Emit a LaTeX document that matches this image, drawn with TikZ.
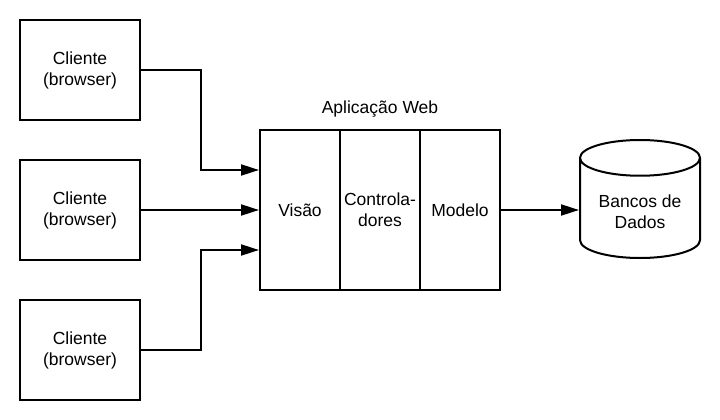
\documentclass[tikz,border=0pt]{standalone}
\usepackage{fontspec}
\setmainfont{Liberation Sans}
\usetikzlibrary{arrows.meta,shapes.geometric}

\tikzset{
  client box/.style={draw,line width=2pt,minimum width=120pt,minimum height=100pt,align=center},
  layer box/.style={draw,line width=2pt,minimum width=80pt,minimum height=160pt,align=center},
  link/.style={line width=2pt,-{Triangle[length=18pt,width=11pt]}},
}

\begin{document}
\begin{tikzpicture}[x=1pt,y=-1pt,font=\fontsize{17.5}{21}\selectfont]
      \useasboundingbox (0,0) rectangle (720,420);
      % clients
      \node[client box] at (80,70) (client a) {Cliente \\ (browser)};
      \node[client box] at (80,210) (client b) {Cliente \\ (browser)};
      \node[client box] at (80,350) (client c) {Cliente \\ (browser)};
      % web application
      \node[layer box] at (300,210) (visao) {Visão};
      \node[layer box] at (380,210) (controladores) {Controla- \\ dores};
      \node[layer box] at (460,210) (modelo) {Modelo};
      \node at (380,109) (web label) {Aplicação Web};
      % database
      \node[draw,line width=2pt,cylinder,shape border rotate=90,aspect=0.4,
        minimum width=120pt,minimum height=118pt,align=center,anchor=shape center] at (640,199) (db) {Bancos de \\ Dados};
      \draw[link] (client a.east) -- ++(60,0) |- ([yshift=40pt]visao.west);
      \draw[link] (client b) -- (visao);
      \draw[link] (client c.east) -- ++(60,0) |- ([yshift=-40pt]visao.west);
      \draw[link] (modelo.east) -- (modelo.east -| db.west);
    \end{tikzpicture}
\end{document}
